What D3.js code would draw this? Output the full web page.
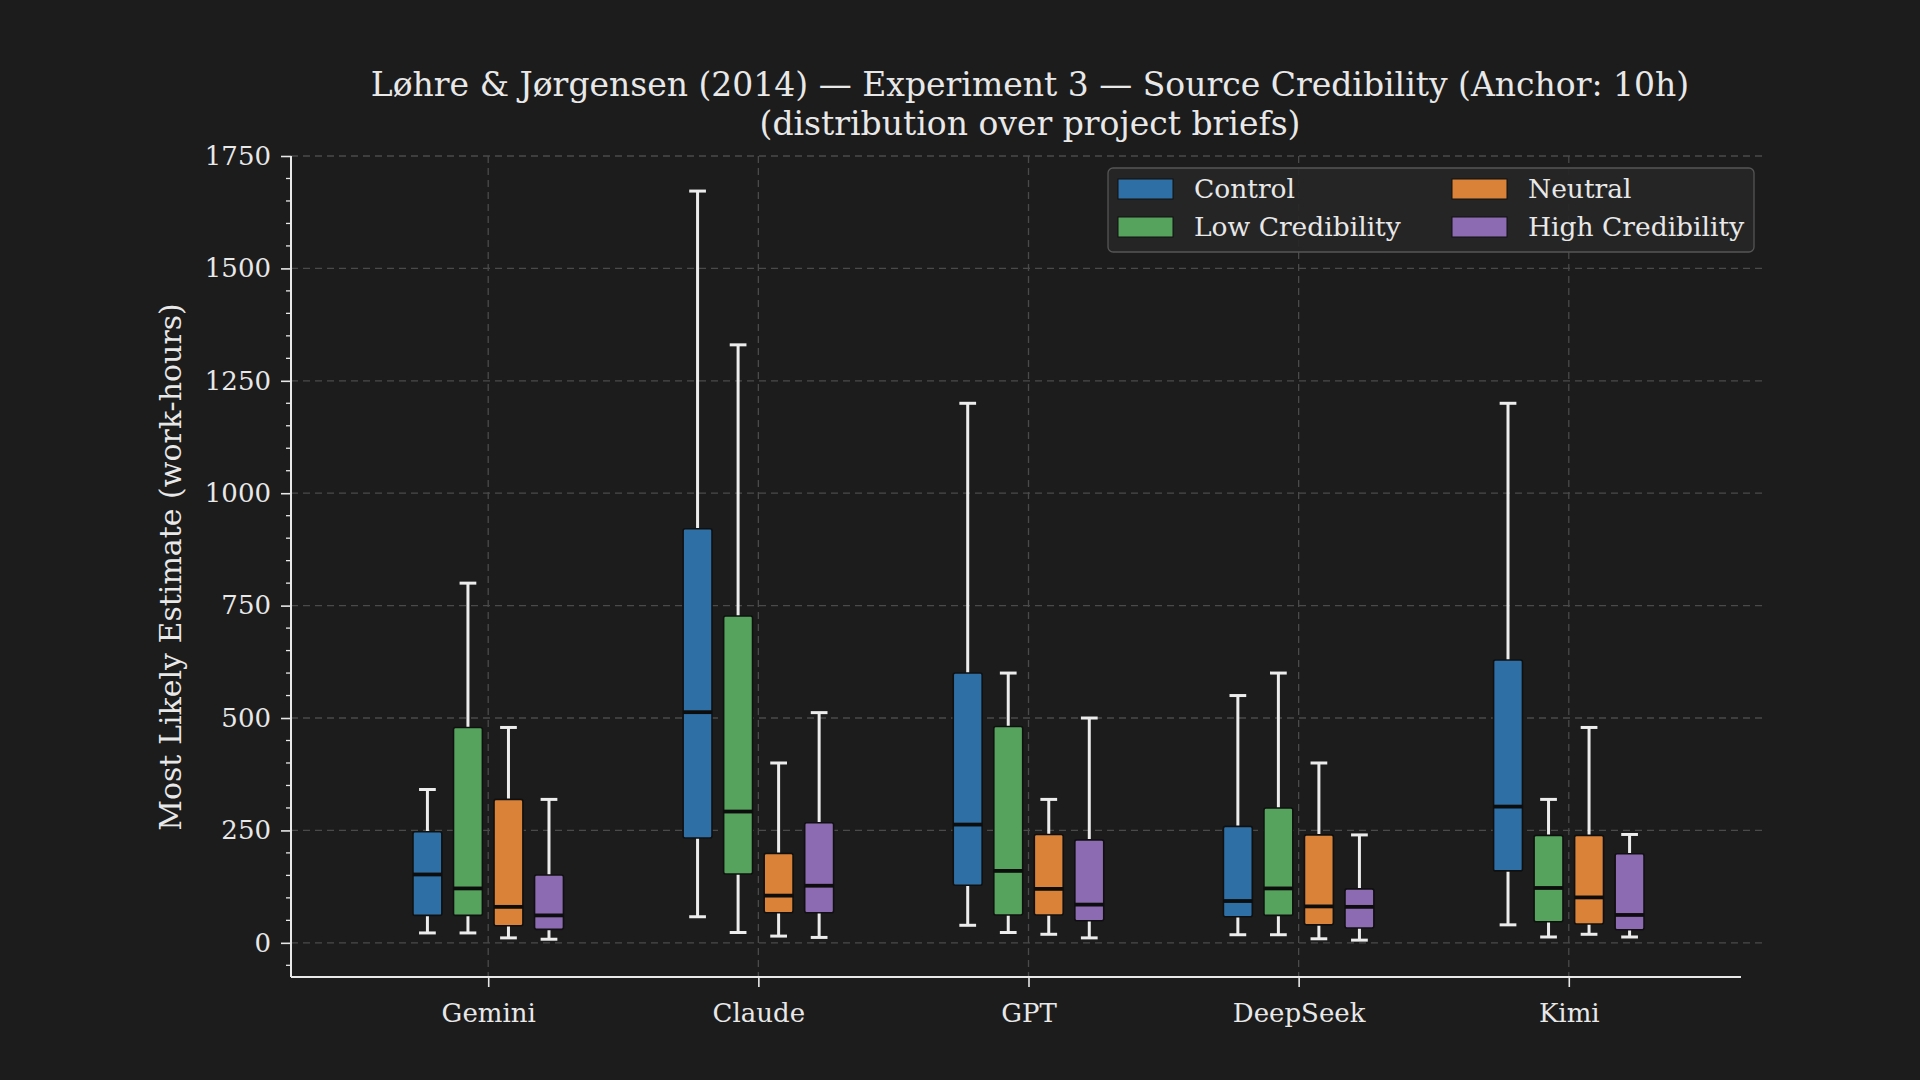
<!DOCTYPE html>
<html>
<head>
<meta charset="utf-8">
<title>Source Credibility boxplots</title>
<script src="https://d3js.org/d3.v7.min.js"></script>
<style>
    body { margin: 0; background: #1c1c1c; }
    svg text { font-family: "DejaVu Serif", serif; fill: #e8e8e8; }
</style>
</head>
<body>
<svg id="chart" width="1920" height="1080"></svg>
<script>
    // categories and series
    const models = ["Gemini", "Claude", "GPT", "DeepSeek", "Kimi"];
    const conditions = ["Control", "Low Credibility", "Neutral", "High Credibility"];
    const colors = ["#2e6fa6", "#56a35e", "#db8239", "#8d6bb2"];

    // [whisker low, q1, median, q3, whisker high] per model
    const controlStats = [[22, 61, 152, 247, 341], [58, 233, 513, 921, 1672], [39, 128, 263, 600, 1200], [18, 58, 93, 259, 550], [40, 160, 303, 629, 1200]];
    const lowStats     = [[22, 61, 121, 479, 800], [23, 153, 292, 727, 1330], [23, 62, 160, 481, 600], [18, 61, 121, 300, 600], [13, 47, 122, 239, 319]];
    const neutralStats = [[11, 38, 80, 319, 479], [15, 67, 105, 199, 400], [19, 62, 120, 241, 319], [9, 40, 81, 240, 400], [19, 42, 101, 239, 479]];
    const highStats    = [[8, 30, 61, 151, 319], [12, 67, 127, 267, 512], [11, 49, 85, 229, 500], [6, 33, 80, 120, 240], [13, 29, 62, 198, 241]];
    const allStats = [controlStats, lowStats, neutralStats, highStats];

    const yTicks = [0, 250, 500, 750, 1000, 1250, 1500, 1750];

    const svg = d3.select("svg#chart");
    const plotL = 291, plotR = 1766, plotT = 156, plotB = 977;

    const x = d3.scaleLinear().domain([-0.73, 4.73]).range([plotL, plotR]);
    const y = d3.scaleLinear().domain([-76, 1750]).range([plotB, plotT]);

    const step = 0.15;        // offset between boxes in a group
    const boxW = x(0.107) - x(0);
    const capW = x(0.062) - x(0);

    // grid
    svg.append("g").selectAll("line").data(yTicks)
        .join("line")
        .attr("x1", plotL).attr("x2", plotR)
        .attr("y1", d => y(d)).attr("y2", d => y(d))
        .attr("stroke", "#4a4a4a").attr("stroke-width", 1.3)
        .attr("stroke-dasharray", "7,5");
    svg.append("g").selectAll("line").data(models)
        .join("line")
        .attr("x1", (d, i) => x(i)).attr("x2", (d, i) => x(i))
        .attr("y1", plotT).attr("y2", plotB)
        .attr("stroke", "#4a4a4a").attr("stroke-width", 1.3)
        .attr("stroke-dasharray", "7,5");

    // boxes
    const rows = [];
    allStats.forEach((series, c) => {
        series.forEach((s, m) => {
            rows.push({c: c, m: m, lo: s[0], q1: s[1], med: s[2], q3: s[3], hi: s[4]});
        });
    });
    const cx = d => x(d.m + (d.c - 1.5) * step);

    const g = svg.append("g");
    // whiskers
    g.selectAll("line.whiskLo").data(rows).join("line")
        .attr("x1", cx).attr("x2", cx)
        .attr("y1", d => y(d.lo)).attr("y2", d => y(d.q1))
        .attr("stroke", "#ececec").attr("stroke-width", 3);
    g.selectAll("line.whiskHi").data(rows).join("line")
        .attr("x1", cx).attr("x2", cx)
        .attr("y1", d => y(d.hi)).attr("y2", d => y(d.q3))
        .attr("stroke", "#ececec").attr("stroke-width", 3);
    ["lo", "hi"].forEach(k => {
        g.selectAll("line.cap" + k).data(rows).join("line")
            .attr("x1", d => cx(d) - capW / 2).attr("x2", d => cx(d) + capW / 2)
            .attr("y1", d => y(d[k])).attr("y2", d => y(d[k]))
            .attr("stroke", "#ececec").attr("stroke-width", 3);
    });
    g.selectAll("rect.box").data(rows).join("rect")
        .attr("x", d => cx(d) - boxW / 2).attr("width", boxW)
        .attr("y", d => y(d.q3)).attr("height", d => y(d.q1) - y(d.q3))
        .attr("rx", 2)
        .attr("fill", d => colors[d.c])
        .attr("stroke", "#101010").attr("stroke-width", 1.6);
    g.selectAll("line.med").data(rows).join("line")
        .attr("x1", d => cx(d) - boxW / 2).attr("x2", d => cx(d) + boxW / 2)
        .attr("y1", d => y(d.med)).attr("y2", d => y(d.med))
        .attr("stroke", "#0d0d0d").attr("stroke-width", 3.8);

    // axes
    const yAxis = svg.append("g").attr("transform", `translate(${plotL},0)`)
        .call(d3.axisLeft(y).tickValues(yTicks).tickFormat(d3.format("d"))
            .tickSize(10).tickPadding(10));
    yAxis.select(".domain").remove();
    const minor = d3.range(-50, 1751, 50).filter(v => v % 250 !== 0);
    yAxis.selectAll("line.minor").data(minor).join("line")
        .attr("class", "minor")
        .attr("x1", -5).attr("x2", 0)
        .attr("y1", d => y(d)).attr("y2", d => y(d))
        .attr("stroke", "#e8e8e8").attr("stroke-width", 1.3);
    yAxis.selectAll(".tick line").attr("stroke", "#e8e8e8").attr("stroke-width", 1.6);
    yAxis.selectAll(".tick text").attr("font-size", 26).attr("fill", "#e8e8e8")
        .style("font-family", "DejaVu Serif");

    const xAxis = svg.append("g").attr("transform", `translate(0,${plotB})`)
        .call(d3.axisBottom(x).tickValues(d3.range(models.length))
            .tickFormat(i => models[i]).tickSize(10).tickPadding(17));
    xAxis.select(".domain").remove();
    xAxis.selectAll(".tick line").attr("stroke", "#e8e8e8").attr("stroke-width", 1.6);
    xAxis.selectAll(".tick text").attr("font-size", 26).attr("fill", "#e8e8e8")
        .style("font-family", "DejaVu Serif");

    // spines
    svg.append("line").attr("x1", plotL).attr("x2", plotL).attr("y1", plotT).attr("y2", plotB)
        .attr("stroke", "#e8e8e8").attr("stroke-width", 2);
    svg.append("line").attr("x1", plotL).attr("x2", 1741).attr("y1", plotB).attr("y2", plotB)
        .attr("stroke", "#e8e8e8").attr("stroke-width", 2);

    // titles
    svg.append("text").attr("x", 1030).attr("y", 96).attr("text-anchor", "middle")
        .attr("font-size", 33)
        .text("Løhre & Jørgensen (2014) — Experiment 3 — Source Credibility (Anchor: 10h)");
    svg.append("text").attr("x", 1030).attr("y", 135).attr("text-anchor", "middle")
        .attr("font-size", 33)
        .text("(distribution over project briefs)");
    svg.append("text")
        .attr("transform", `translate(181,567) rotate(-90)`)
        .attr("text-anchor", "middle").attr("font-size", 30)
        .text("Most Likely Estimate (work-hours)");

    // legend
    const lg = svg.append("g").attr("transform", "translate(1108,168)");
    lg.append("rect").attr("width", 646).attr("height", 84).attr("rx", 5)
        .attr("fill", "#262626").attr("fill-opacity", 0.92)
        .attr("stroke", "#555").attr("stroke-width", 1.3);
    const order = [0, 2, 1, 3];
    const item = lg.selectAll("g.item").data(order).join("g")
        .attr("transform", (c, k) => `translate(${k % 2 === 0 ? 10 : 344},${k < 2 ? 11 : 49})`);
    item.append("rect").attr("width", 55).attr("height", 20)
        .attr("fill", c => colors[c]).attr("stroke", "#101010").attr("stroke-width", 1);
    item.append("text").attr("x", 76).attr("y", 19).attr("font-size", 26.5)
        .text(c => conditions[c]);
</script>
</body>
</html>
